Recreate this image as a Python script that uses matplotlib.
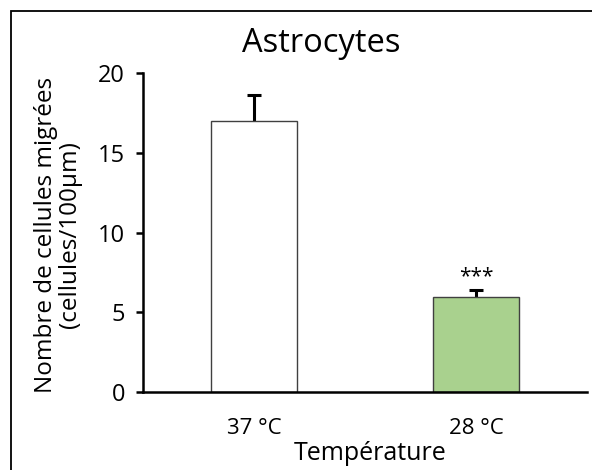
import matplotlib
matplotlib.use("Agg")
import matplotlib.pyplot as plt
from matplotlib.patches import Rectangle

categories = ["37 °C", "28 °C"]
values = [17.0, 5.95]
errors = [1.6, 0.45]
colors = ["#ffffff", "#a9d18e"]
yticks = [0, 5, 10, 15, 20]

plt.rcParams['font.family'] = ['Open Sans', 'DejaVu Sans']

W, H = 592, 470
fig = plt.figure(figsize=(W / 100, H / 100), dpi=100)
ax = fig.add_axes([143 / W, 1 - 392 / H, (587 - 143) / W, (392 - 73) / H])

x = list(range(len(categories)))
ax.bar(x, values, width=0.39, color=colors, edgecolor="#404040", linewidth=1.0, zorder=2)
ax.errorbar(x, values, yerr=errors, fmt='none', ecolor='black',
            elinewidth=2.2, capsize=5, capthick=2.2, zorder=1)

ax.text(x[1], values[1] + errors[1] + 0.15, "***", ha='center', va='bottom', fontsize=15)

ax.set_xlim(-0.5, 1.5)
ax.set_ylim(0, 20)
ax.set_yticks(yticks)
ax.set_xticks(x)
ax.set_xticklabels(categories, fontsize=16)
ax.tick_params(axis='y', labelsize=17, length=5, width=1.8, direction='out', pad=8)
ax.tick_params(axis='x', length=0, pad=19)
for s in ['top', 'right']:
    ax.spines[s].set_visible(False)
ax.spines['left'].set_linewidth(1.8)
ax.spines['bottom'].set_linewidth(1.8)

fig.text(321 / W, 1 - 52 / H, "Astrocytes", ha='center', va='baseline', fontsize=23.5)
fig.text(58 / W, 1 - 235 / H, "Nombre de cellules migrées\n(cellules/100µm)",
         ha='center', va='center', rotation=90, fontsize=17.5, linespacing=1.05)
fig.text(370 / W, 1 - 453 / H, "Température", ha='center', va='center', fontsize=18)

fig.patches.append(Rectangle((11 / W, -0.1), 1.2, 1 - 11 / H + 0.1, transform=fig.transFigure,
                             fill=False, edgecolor='black', linewidth=1.3))

fig.savefig("out.png", dpi=100)
